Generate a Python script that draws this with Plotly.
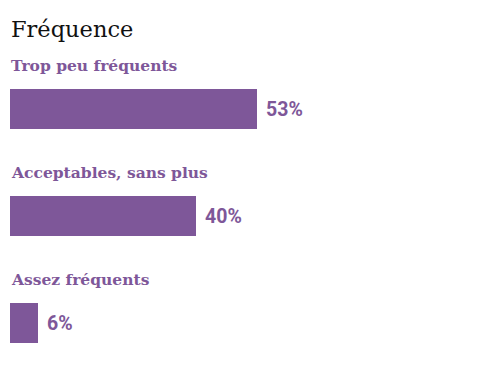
import plotly.graph_objects as go

categories = ["Trop peu fréquents", "Acceptables, sans plus", "Assez fréquents"]
values = [53, 40, 6]
value_labels = ["53%", "40%", "6%"]
title = "Fréquence"

PURPLE = "#7e5799"
W, H = 491, 373
ypos = list(range(len(categories)))

fig = go.Figure()
fig.add_trace(go.Bar(
    x=values, y=ypos, orientation="h",
    marker=dict(color=PURPLE, line=dict(width=0)),
    width=0.374, hoverinfo="skip", showlegend=False,
))

annotations = []
for i, (c, v, t) in enumerate(zip(categories, values, value_labels)):
    annotations.append(dict(
        x=0, y=i - 0.41, xref="x", yref="y", text=c, showarrow=False,
        xanchor="left", yanchor="middle", xshift=-1,
        font=dict(family="DejaVu Serif", size=15.5, color=PURPLE, weight="bold"),
    ))
    annotations.append(dict(
        x=v, y=i, xref="x", yref="y", text=t, showarrow=False,
        xanchor="left", yanchor="middle", xshift=7,
        font=dict(family="Roboto", size=19.5, color=PURPLE, weight="bold"),
    ))
annotations.append(dict(
    x=0, y=1 - 29 / H, xref="x", yref="paper", text=title, showarrow=False,
    xanchor="left", yanchor="middle", xshift=-1,
    font=dict(family="DejaVu Serif", size=22.5, color="#111111", weight=300),
))

fig.update_layout(
    width=W, height=H,
    margin=dict(l=10, r=15, t=0, b=0),
    paper_bgcolor="white", plot_bgcolor="white",
    xaxis=dict(range=[0, 100], visible=False, fixedrange=True),
    yaxis=dict(range=[(H - 109) / 107, -109 / 107], visible=False, fixedrange=True),
    annotations=annotations,
    bargap=0,
)

fig.write_html("out.html", config={"displayModeBar": False},
               post_script="document.body.style.margin='0';")
